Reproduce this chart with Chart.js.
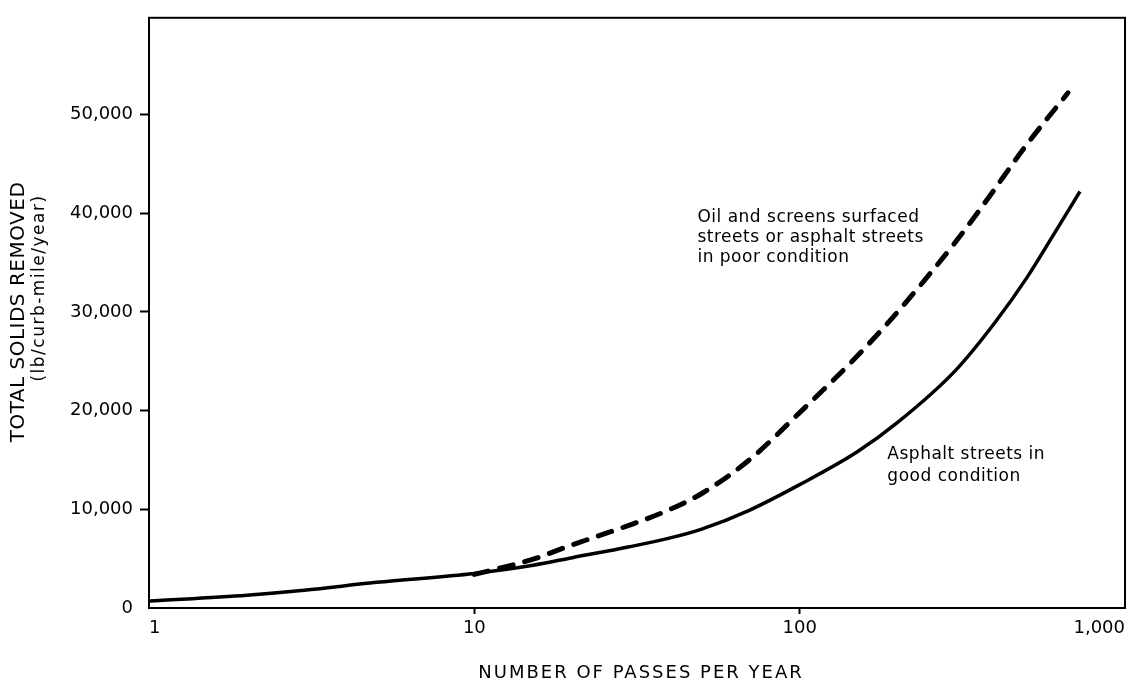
<!DOCTYPE html>
<html>
<head>
<meta charset="utf-8">
<script src="https://cdn.jsdelivr.net/npm/chart.js@4/dist/chart.umd.min.js"></script>
<style>
  html, body { margin: 0; padding: 0; background: #fff; }
  #wrap { width: 1130px; height: 684px; }
</style>
</head>
<body>
<div id="wrap"><canvas id="c" width="1130" height="684"></canvas></div>
<script>
// Street sweeping: solids removed versus sweeping frequency
const passesGood = [1, 2, 3, 5, 10, 15, 20, 30, 40, 50, 70, 100, 150, 200, 300, 400, 500, 600, 727];
const solidsGood = [700, 1300, 1800, 2600, 3500, 4300, 5100, 6200, 7100, 8000, 9900, 12500, 15800, 18800, 24000, 29000, 33500, 37700, 42200];

const passesPoor = [10, 15, 20, 30, 40, 50, 70, 100, 150, 200, 300, 366, 500, 668];
const solidsPoor = [3400, 4900, 6400, 8400, 10000, 11600, 15000, 19800, 25500, 30000, 37000, 40800, 47000, 52200];

const xTickValues = [1, 10, 100, 1000];
const yTickValues = [0, 10000, 20000, 30000, 40000, 50000];

const labelPoor = ['Oil and screens surfaced', 'streets or asphalt streets', 'in poor condition'];
const labelGood = ['Asphalt streets in', 'good condition'];

const FONT = '"DejaVu Sans", "Liberation Sans", sans-serif';
const fmt = v => v.toLocaleString('en-US');

const framePlugin = {
  id: 'frameAndText',
  afterDraw(chart) {
    const ctx = chart.ctx;
    const a = chart.chartArea;
    const xs = chart.scales.x, ys = chart.scales.y;
    ctx.save();
    // plot frame
    ctx.strokeStyle = '#000';
    ctx.lineWidth = 2;
    ctx.strokeRect(a.left, a.top, a.right - a.left, a.bottom - a.top);

    ctx.fillStyle = '#000';
    ctx.textBaseline = 'middle';
    ctx.textAlign = 'center';

    // x axis title
    ctx.font = '18px ' + FONT;
    ctx.letterSpacing = '2px';
    ctx.fillText('NUMBER OF PASSES PER YEAR', 641, 673);

    // y axis title (two lines)
    ctx.save();
    ctx.translate(19, 312);
    ctx.rotate(-Math.PI / 2);
    ctx.font = '20px ' + FONT;
    ctx.letterSpacing = '0.5px';
    ctx.fillText('TOTAL SOLIDS REMOVED', 0, 0);
    ctx.restore();
    ctx.save();
    ctx.translate(40, 288);
    ctx.rotate(-Math.PI / 2);
    ctx.font = '17px ' + FONT;
    ctx.letterSpacing = '1.5px';
    ctx.fillText('(lb/curb-mile/year)', 0, 0);
    ctx.restore();

    // curve labels
    ctx.font = '17px ' + FONT;
    ctx.letterSpacing = '0.5px';
    ctx.textAlign = 'left';
    let x0 = xs.getPixelForValue(48.5), y0 = ys.getPixelForValue(39600);
    labelPoor.forEach((t, i) => ctx.fillText(t, x0, y0 + i * 20));
    x0 = xs.getPixelForValue(186); y0 = ys.getPixelForValue(15500);
    labelGood.forEach((t, i) => ctx.fillText(t, x0, y0 + i * 22));
    ctx.restore();
  }
};

new Chart(document.getElementById('c'), {
  type: 'line',
  data: {
    datasets: [
      {
        label: 'Asphalt streets in good condition',
        data: passesGood.map((p, i) => ({ x: p, y: solidsGood[i] })),
        borderColor: '#000',
        borderWidth: 3.5,
        pointRadius: 0,
        cubicInterpolationMode: 'monotone',
        fill: false
      },
      {
        label: 'Oil and screens surfaced streets or asphalt streets in poor condition',
        data: passesPoor.map((p, i) => ({ x: p, y: solidsPoor[i] })),
        borderColor: '#000',
        borderWidth: 5,
        borderDash: [14, 12],
        borderCapStyle: 'round',
        pointRadius: 0,
        cubicInterpolationMode: 'monotone',
        fill: false
      }
    ]
  },
  options: {
    responsive: false,
    animation: false,
    events: [],
    layout: { padding: { top: 10, right: 5, left: 0, bottom: 0 } },
    plugins: { legend: { display: false }, tooltip: { enabled: false } },
    scales: {
      x: {
        type: 'logarithmic',
        min: 1,
        max: 1000,
        border: { display: false },
        grid: {
          drawOnChartArea: false,
          drawTicks: true,
          tickLength: 6,
          tickWidth: 2,
          color: ctx => (ctx.tick && (ctx.tick.value === 10 || ctx.tick.value === 100)) ? '#000' : 'rgba(0,0,0,0)'
        },
        afterBuildTicks: axis => { axis.ticks = xTickValues.map(v => ({ value: v })); },
        afterFit: axis => { axis.height = 76; },
        ticks: {
          autoSkip: false,
          maxRotation: 0,
          align: 'inner',
          padding: 4,
          color: '#000',
          font: { family: FONT, size: 18 },
          callback: v => fmt(v)
        }
      },
      y: {
        type: 'linear',
        min: 0,
        max: 59800,
        border: { display: false },
        grid: {
          drawOnChartArea: false,
          drawTicks: true,
          tickLength: 9,
          tickWidth: 2,
          color: ctx => (ctx.tick && ctx.tick.value > 0) ? '#000' : 'rgba(0,0,0,0)'
        },
        afterBuildTicks: axis => { axis.ticks = yTickValues.map(v => ({ value: v })); },
        afterFit: axis => { axis.width = 149; },
        ticks: {
          autoSkip: false,
          padding: 7,
          color: '#000',
          font: { family: FONT, size: 18 },
          callback: v => fmt(v)
        }
      }
    }
  },
  plugins: [framePlugin]
});
</script>
</body>
</html>
